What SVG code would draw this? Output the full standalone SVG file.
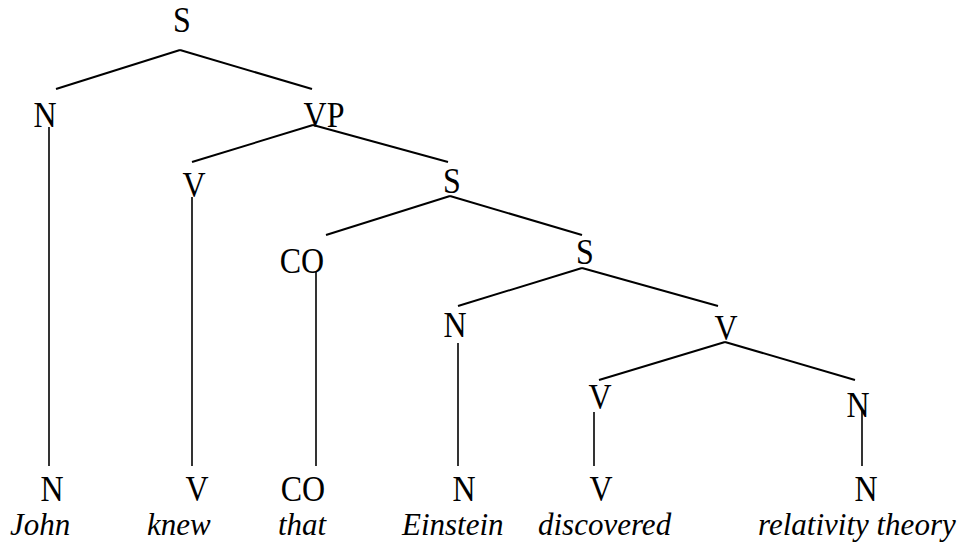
<svg xmlns="http://www.w3.org/2000/svg" width="965" height="542" viewBox="0 0 965 542">
<style>
.l{font-family:"Liberation Serif","Times New Roman",serif;font-size:32px;fill:#000;text-anchor:middle}
.w{font-family:"Liberation Serif","Times New Roman",serif;font-size:31px;font-style:italic;fill:#000}
.e{stroke:#000;stroke-width:2;fill:none}
.v{stroke:#000;stroke-width:1.6;fill:none}
</style>
<rect width="965" height="542" fill="#fff"/>
<g id="connectors">
<line class="e" x1="180" y1="50" x2="56" y2="89"/>
<line class="e" x1="180" y1="50" x2="312" y2="89"/>
<line class="v" x1="49" y1="127" x2="49" y2="466"/>
<line class="e" x1="313" y1="125" x2="192" y2="162"/>
<line class="e" x1="313" y1="125" x2="448" y2="162"/>
<line class="v" x1="192" y1="197" x2="192" y2="466"/>
<line class="e" x1="450" y1="196" x2="326" y2="235"/>
<line class="e" x1="450" y1="196" x2="582" y2="235"/>
<line class="v" x1="316" y1="272" x2="316" y2="466"/>
<line class="e" x1="582" y1="268" x2="458" y2="306"/>
<line class="e" x1="582" y1="268" x2="718" y2="306"/>
<line class="v" x1="458" y1="343" x2="458" y2="466"/>
<line class="e" x1="725" y1="342" x2="599" y2="380"/>
<line class="e" x1="725" y1="342" x2="855" y2="380"/>
<line class="v" x1="594" y1="412" x2="594" y2="466"/>
<line class="v" x1="862" y1="410" x2="862" y2="466"/>
</g>
<g id="n_S1"><text class="l" transform="translate(182 32) scale(1 1.12)">S</text></g>
<g id="n_N1"><text class="l" transform="translate(45 127) scale(1 1.12)">N</text></g>
<g id="n_VP"><text class="l" transform="translate(324 127) scale(1 1.12)">VP</text></g>
<g id="n_V1"><text class="l" transform="translate(194 197) scale(1 1.12)">V</text></g>
<g id="n_S2"><text class="l" transform="translate(452 193) scale(1 1.12)">S</text></g>
<g id="n_CO"><text class="l" transform="translate(302 273) scale(1 1.12)">CO</text></g>
<g id="n_S3"><text class="l" transform="translate(585 264) scale(1 1.12)">S</text></g>
<g id="n_N2"><text class="l" transform="translate(455 337) scale(1 1.12)">N</text></g>
<g id="n_V2"><text class="l" transform="translate(726 340) scale(1 1.12)">V</text></g>
<g id="n_V3"><text class="l" transform="translate(600 409) scale(1 1.12)">V</text></g>
<g id="n_N3"><text class="l" transform="translate(858 417) scale(1 1.12)">N</text></g>
<g id="t_N1"><text class="l" transform="translate(52 501) scale(1 1.12)">N</text></g>
<g id="t_V1"><text class="l" transform="translate(197 501) scale(1 1.12)">V</text></g>
<g id="t_CO"><text class="l" transform="translate(303 501) scale(1 1.12)">CO</text></g>
<g id="t_N2"><text class="l" transform="translate(464 501) scale(1 1.12)">N</text></g>
<g id="t_V3"><text class="l" transform="translate(601 501) scale(1 1.12)">V</text></g>
<g id="t_N3"><text class="l" transform="translate(866 501) scale(1 1.12)">N</text></g>
<g id="w_john"><text class="w" x="10" y="535">John</text></g>
<g id="w_knew"><text class="w" x="147" y="535">knew</text></g>
<g id="w_that"><text class="w" x="278" y="535">that</text></g>
<g id="w_einstein"><text class="w" x="402" y="535">Einstein</text></g>
<g id="w_discovered"><text class="w" x="538" y="535">discovered</text></g>
<g id="w_relativity"><text class="w" x="758" y="535">relativity theory</text></g>
</svg>
